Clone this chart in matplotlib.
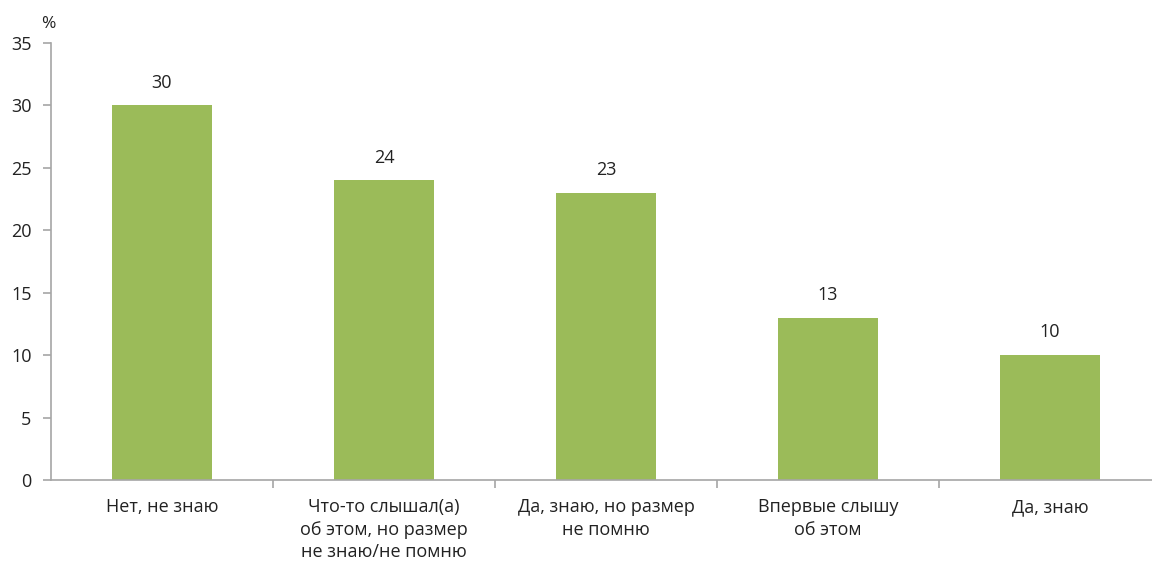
import numpy as np
import matplotlib.pyplot as plt

categories = ["Нет, не знаю",
              "Что-то слышал(а)\nоб этом, но размер\nне знаю/не помню",
              "Да, знаю, но размер\nне помню",
              "Впервые слышу\nоб этом",
              "Да, знаю"]
values = [30, 24, 23, 13, 10]
yticks = [0, 5, 10, 15, 20, 25, 30, 35]

plt.rcParams['font.family'] = ['Open Sans', 'DejaVu Sans']

fig = plt.figure(figsize=(11.52, 5.63), dpi=100)
ax = fig.add_axes([51 / 1152, 1 - 480 / 563, 1110 / 1152, 437 / 563])

x = np.arange(len(categories))
ax.bar(x, values, width=0.45, color='#9BBB59')
for xi, v in zip(x, values):
    ax.text(xi, v + 1.1, str(v), ha='center', va='bottom', fontsize=13, color='#222222')

ax.set_xlim(-0.5, len(categories) - 0.5)
ax.set_ylim(0, 35)
ax.set_yticks(yticks)
ax.set_yticklabels([str(t) for t in yticks], fontsize=13, color='#222222')

ax.set_xticks(x)
ax.set_xticklabels(categories, fontsize=13, color='#222222', linespacing=1.32, va='top')
ax.tick_params(axis='x', length=0, pad=13)
ax.set_xticks(np.arange(0.5, len(categories) - 0.5), minor=True)
ax.tick_params(axis='x', which='minor', length=6, color='#A6A6A6', width=1.2)
ax.tick_params(axis='y', length=6, color='#A6A6A6', width=1.2, pad=8)

for s in ['top', 'right']:
    ax.spines[s].set_visible(False)
for s in ['left', 'bottom']:
    ax.spines[s].set_color('#A6A6A6')
    ax.spines[s].set_linewidth(1.2)

fig.text(41 / 1152, 1 - 32 / 563, '%', fontsize=12.5, ha='left', va='bottom', color='#222222')

fig.savefig('out.png', dpi=100)
